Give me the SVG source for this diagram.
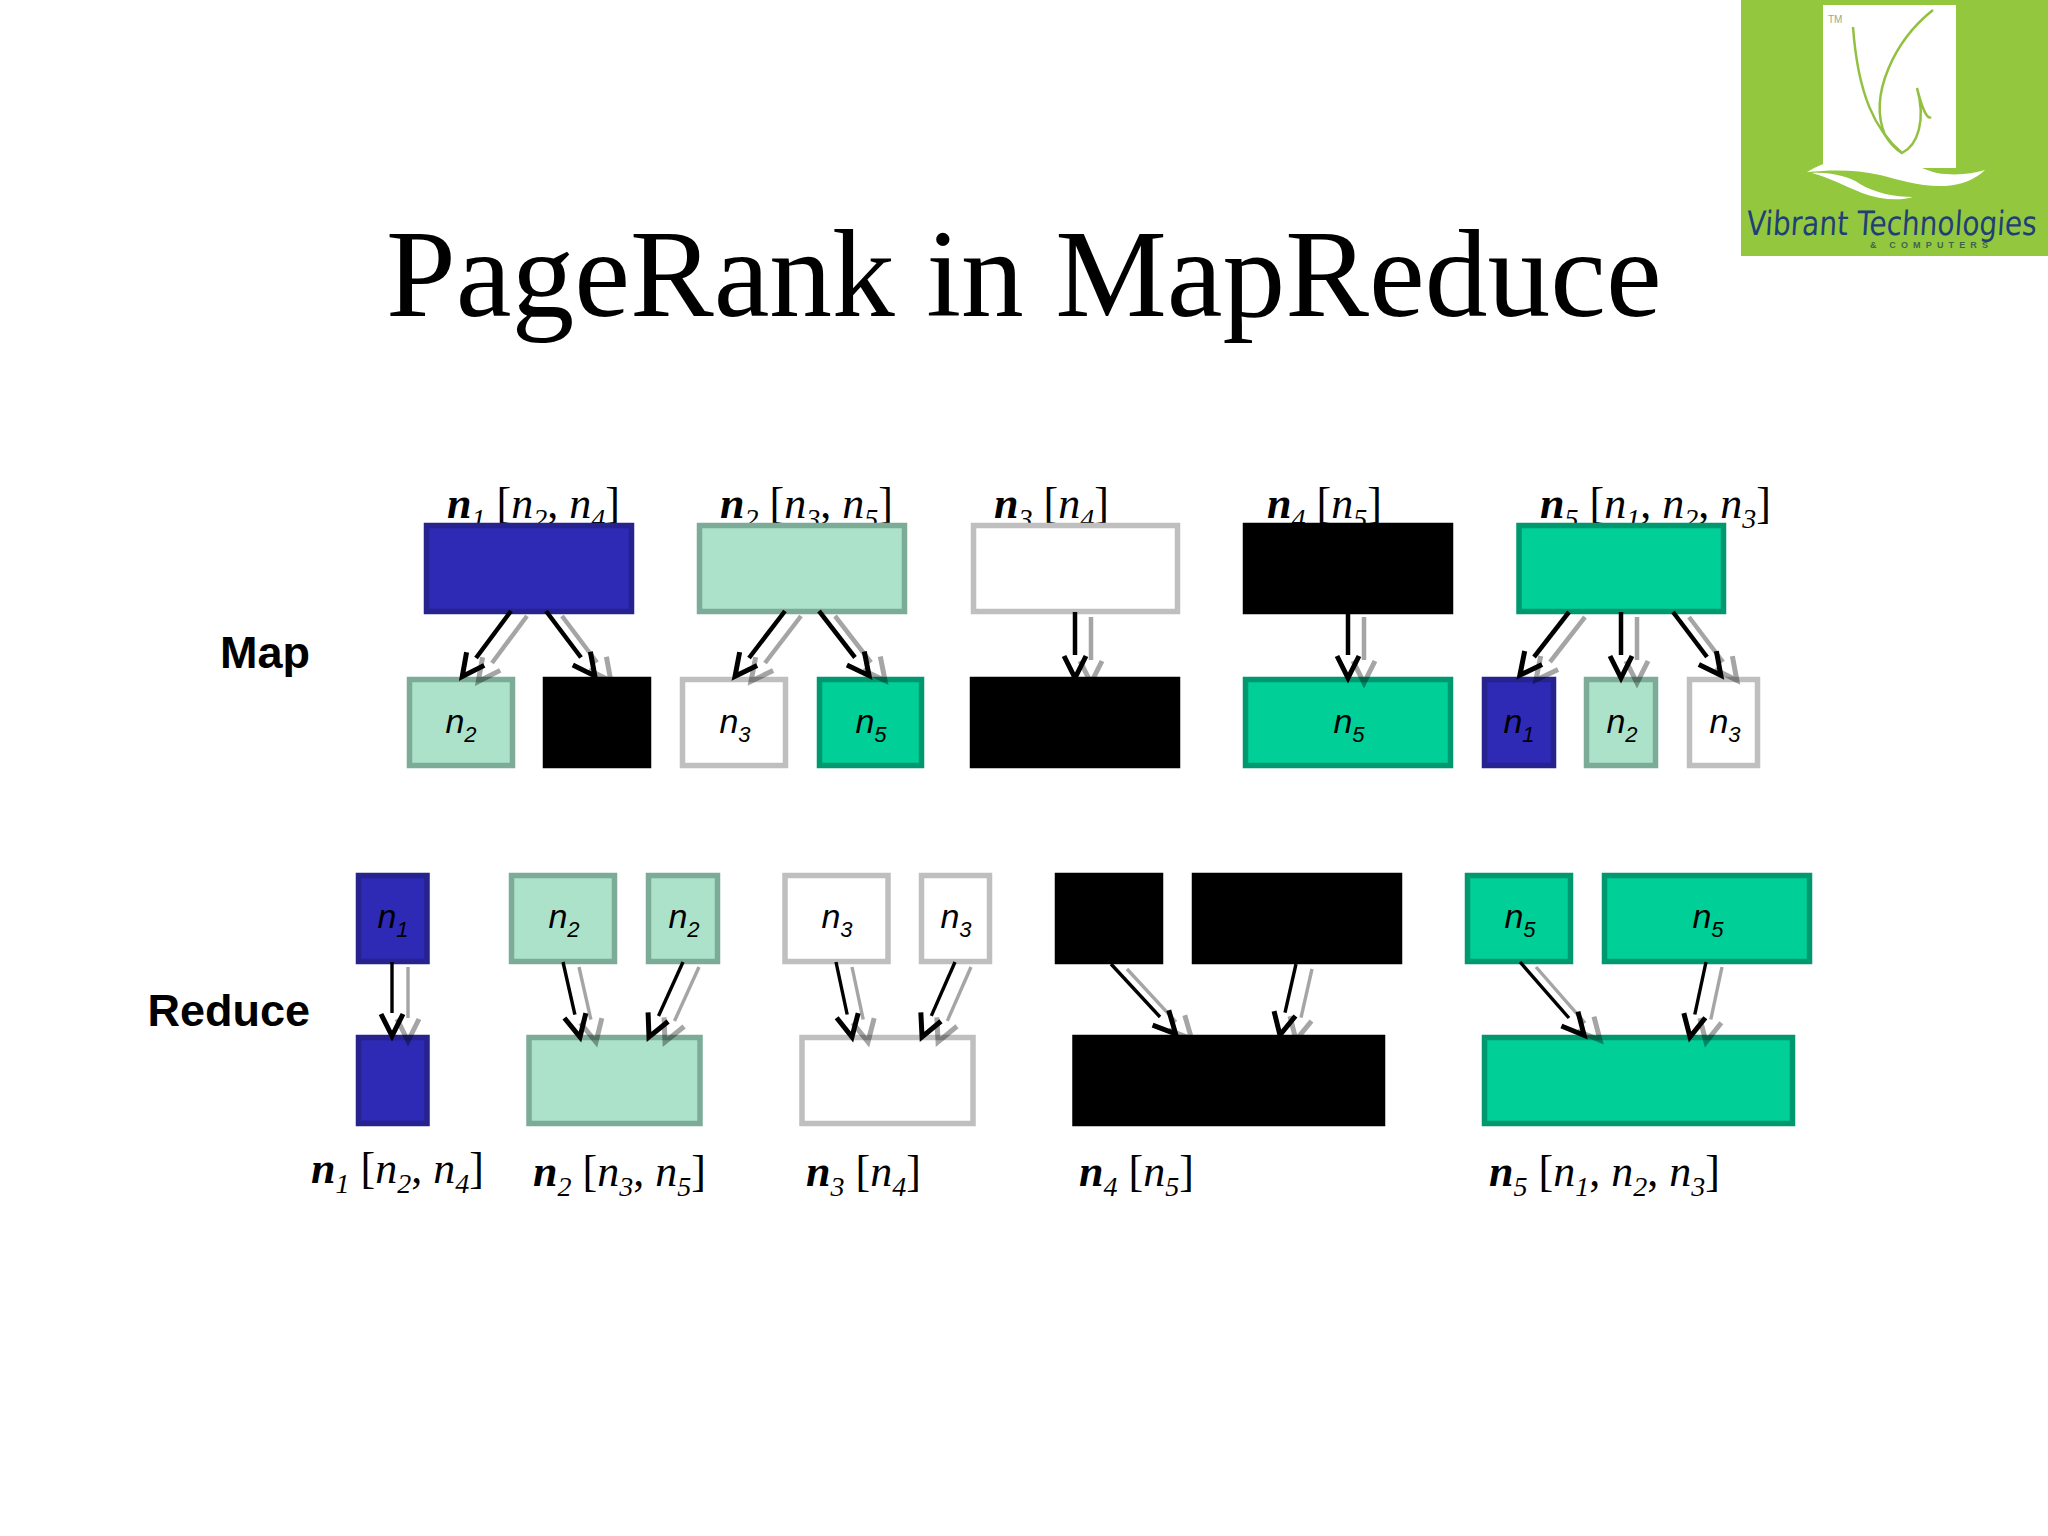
<svg xmlns="http://www.w3.org/2000/svg" xmlns:xlink="http://www.w3.org/1999/xlink" width="2048" height="1536" viewBox="0 0 2048 1536">
<style>
.title{font:125.500px "Liberation Serif",serif;fill:#000}
.stage{font:bold 45px "Liberation Sans",Arial,sans-serif;fill:#000;text-anchor:end}
.lbl{font:italic 44px "Liberation Serif",serif;fill:#000}
.lbl .b{font-weight:bold}
.lbl .s{font-size:28px}
.lbl .r{font-style:normal}
.nl{font:italic 34px "Liberation Sans",Arial,sans-serif;fill:#000;text-anchor:middle}
.nl .s{font-size:22px}
.blue{fill:#2e2ab5;stroke:#26238f;stroke-width:5.500}
.mint{fill:#ade2ca;stroke:#7cab98;stroke-width:5.500}
.white{fill:#fff;stroke:#bfbfbf;stroke-width:5.500}
.black{fill:#000;stroke:#000;stroke-width:5.500}
.teal{fill:#00cf98;stroke:#00996f;stroke-width:5.500}
.ms line{stroke:#000;stroke-width:4.500;marker-end:url(#h)}
.rs line{stroke:#000;stroke-width:3.400;marker-end:url(#h)}
</style>
<defs>
<marker id="h" markerUnits="userSpaceOnUse" markerWidth="40" markerHeight="40" viewBox="-5 -20 40 40" refX="0" refY="0" orient="auto">
<path d="M1,-11 L23,0 L1,11" fill="none" stroke="#000" stroke-width="5"/>
</marker>
</defs>
<rect width="2048" height="1536" fill="#fff"/>
<g id="logo">
<rect x="1741" y="0" width="307" height="256" fill="#93c83e"/>
<rect x="1823" y="5" width="133" height="163" fill="#fff"/>
<g fill="none" stroke="#93c040" stroke-width="2.500">
<path d="M1853,27 C1858,95 1875,130 1902,153 C1918,145 1926,120 1917,88 C1922,108 1927,120 1931,117"/>
<path d="M1933,10 C1895,40 1868,95 1885,135 C1889,142 1895,149 1902,153"/>
</g>
<path d="M1807,172 C1830,158 1860,154 1887,158 C1910,162 1925,170 1937,173 C1955,176 1972,174 1985,170 C1975,180 1960,185 1945,186 C1920,187 1900,180 1880,175 C1855,169 1830,170 1807,172Z" fill="#fff"/>
<path d="M1812,173 C1830,172 1848,176 1860,184 C1875,193 1895,197 1913,197 C1900,201 1880,200 1862,193 C1845,186 1830,178 1812,173Z" fill="#fff"/>
<text x="1828" y="23" font-family="Liberation Sans,sans-serif" font-size="10" fill="#9aa98a">TM</text>
<text transform="matrix(1 0 -0.08 1.2 1746 235)" font-family="DejaVu Sans,sans-serif" font-size="28" fill="#1f3f78">Vibrant Technologies</text>
<text x="1870" y="248" font-family="Liberation Sans,sans-serif" font-size="9" font-weight="bold" fill="#3d6450" textLength="118">&amp; COMPUTERS</text>
</g>
<text class="title" x="386" y="316">PageRank in MapReduce</text>
<text class="stage" x="310" y="668">Map</text>
<text class="stage" x="310" y="1026">Reduce</text>
<g id="labels-top" class="lbl">
<text x="447" y="518"><tspan class="b">n</tspan><tspan class="s" dy="10">1</tspan><tspan class="r" dy="-10"> [</tspan>n<tspan class="s" dy="10">2</tspan><tspan class="r" dy="-10">, </tspan>n<tspan class="s" dy="10">4</tspan><tspan class="r" dy="-10">]</tspan></text>
<text x="720" y="518"><tspan class="b">n</tspan><tspan class="s" dy="10">2</tspan><tspan class="r" dy="-10"> [</tspan>n<tspan class="s" dy="10">3</tspan><tspan class="r" dy="-10">, </tspan>n<tspan class="s" dy="10">5</tspan><tspan class="r" dy="-10">]</tspan></text>
<text x="994" y="518"><tspan class="b">n</tspan><tspan class="s" dy="10">3</tspan><tspan class="r" dy="-10"> [</tspan>n<tspan class="s" dy="10">4</tspan><tspan class="r" dy="-10">]</tspan></text>
<text x="1267" y="518"><tspan class="b">n</tspan><tspan class="s" dy="10">4</tspan><tspan class="r" dy="-10"> [</tspan>n<tspan class="s" dy="10">5</tspan><tspan class="r" dy="-10">]</tspan></text>
<text x="1540" y="518"><tspan class="b">n</tspan><tspan class="s" dy="10">5</tspan><tspan class="r" dy="-10"> [</tspan>n<tspan class="s" dy="10">1</tspan><tspan class="r" dy="-10">, </tspan>n<tspan class="s" dy="10">2</tspan><tspan class="r" dy="-10">, </tspan>n<tspan class="s" dy="10">3</tspan><tspan class="r" dy="-10">]</tspan></text>
</g>
<g id="map-sources">
<g id="m-n1"><rect class="blue" x="426.500" y="525.500" width="205" height="86"/></g>
<g id="m-n2"><rect class="mint" x="699.500" y="525.500" width="205" height="86"/></g>
<g id="m-n3"><rect class="white" x="973.500" y="525.500" width="204" height="86"/></g>
<g id="m-n4"><rect class="black" x="1245.500" y="525.500" width="205" height="86"/></g>
<g id="m-n5"><rect class="teal" x="1519" y="525.500" width="204.500" height="86"/></g>
</g>
<g id="map-targets">
<g id="mt-1"><rect class="mint" x="409.500" y="679.500" width="103" height="86"/><text class="nl" x="461" y="733">n<tspan class="s" dy="9">2</tspan></text></g>
<g id="mt-2"><rect class="black" x="545.500" y="679.500" width="103" height="86"/></g>
<g id="mt-3"><rect class="white" x="682.500" y="679.500" width="103" height="86"/><text class="nl" x="735" y="733">n<tspan class="s" dy="9">3</tspan></text></g>
<g id="mt-4"><rect class="teal" x="819.500" y="679.500" width="102" height="86"/><text class="nl" x="871" y="733">n<tspan class="s" dy="9">5</tspan></text></g>
<g id="mt-5"><rect class="black" x="972.500" y="679.500" width="205" height="86"/></g>
<g id="mt-6"><rect class="teal" x="1245.500" y="679.500" width="205" height="86"/><text class="nl" x="1349" y="733">n<tspan class="s" dy="9">5</tspan></text></g>
<g id="mt-7"><rect class="blue" x="1484.500" y="679.500" width="69" height="86"/><text class="nl" x="1519" y="733">n<tspan class="s" dy="9">1</tspan></text></g>
<g id="mt-8"><rect class="mint" x="1586.500" y="679.500" width="69" height="86"/><text class="nl" x="1622" y="733">n<tspan class="s" dy="9">2</tspan></text></g>
<g id="mt-9"><rect class="white" x="1689.500" y="679.500" width="68" height="86"/><text class="nl" x="1725" y="733">n<tspan class="s" dy="9">3</tspan></text></g>
</g>
<g id="reduce-sources">
<g id="rs-1"><rect class="blue" x="358.500" y="875.500" width="68.500" height="86"/><text class="nl" x="393" y="928">n<tspan class="s" dy="9">1</tspan></text></g>
<g id="rs-2"><rect class="mint" x="511.500" y="875.500" width="103" height="86"/><text class="nl" x="564" y="928">n<tspan class="s" dy="9">2</tspan></text></g>
<g id="rs-3"><rect class="mint" x="648.500" y="875.500" width="69" height="86"/><text class="nl" x="684" y="928">n<tspan class="s" dy="9">2</tspan></text></g>
<g id="rs-4"><rect class="white" x="785" y="875.500" width="103" height="86"/><text class="nl" x="837" y="928">n<tspan class="s" dy="9">3</tspan></text></g>
<g id="rs-5"><rect class="white" x="921.500" y="875.500" width="68" height="86"/><text class="nl" x="956" y="928">n<tspan class="s" dy="9">3</tspan></text></g>
<g id="rs-6"><rect class="black" x="1057.500" y="875.500" width="103" height="86"/></g>
<g id="rs-7"><rect class="black" x="1194.500" y="875.500" width="205" height="86"/></g>
<g id="rs-8"><rect class="teal" x="1467.500" y="875.500" width="103" height="86"/><text class="nl" x="1520" y="928">n<tspan class="s" dy="9">5</tspan></text></g>
<g id="rs-9"><rect class="teal" x="1604.500" y="875.500" width="205" height="86"/><text class="nl" x="1708" y="928">n<tspan class="s" dy="9">5</tspan></text></g>
</g>
<g id="reduce-targets">
<g id="rt-1"><rect class="blue" x="358.500" y="1037.500" width="68.500" height="86"/></g>
<g id="rt-2"><rect class="mint" x="529" y="1037.500" width="171" height="86"/></g>
<g id="rt-3"><rect class="white" x="802" y="1037.500" width="171" height="86"/></g>
<g id="rt-4"><rect class="black" x="1075" y="1037.500" width="307.500" height="86"/></g>
<g id="rt-5"><rect class="teal" x="1484.500" y="1037.500" width="308" height="86"/></g>
</g>
<g id="connectors">
<g id="black-arrows">
<g class="ms">
<line x1="511" y1="611" x2="476" y2="658"/>
<line x1="546" y1="611" x2="581" y2="657.500"/>
<line x1="785" y1="611" x2="749" y2="658"/>
<line x1="819" y1="611" x2="855" y2="657.500"/>
<line x1="1075" y1="612" x2="1075" y2="655"/>
<line x1="1348" y1="612" x2="1348" y2="655"/>
<line x1="1569" y1="612" x2="1534" y2="657"/>
<line x1="1621" y1="612" x2="1621" y2="655"/>
<line x1="1673" y1="612" x2="1707" y2="657"/>
</g>
<g class="rs">
<line x1="392" y1="962" x2="392" y2="1013"/>
<line x1="563" y1="962" x2="574.900" y2="1014.600"/>
<line x1="683" y1="962" x2="658.500" y2="1016"/>
<line x1="836" y1="962" x2="847.200" y2="1014.500"/>
<line x1="955" y1="962" x2="931.300" y2="1015.900"/>
<line x1="1111" y1="964" x2="1160" y2="1017"/>
<line x1="1296" y1="964" x2="1285" y2="1012.600"/>
<line x1="1520" y1="962" x2="1569" y2="1018"/>
<line x1="1706" y1="962" x2="1694.800" y2="1014.500"/>
</g>
</g>
<use href="#black-arrows" xlink:href="#black-arrows" transform="translate(16,5)" opacity="0.35"/>
</g>
<g id="labels-bottom" class="lbl">
<text x="311" y="1183"><tspan class="b">n</tspan><tspan class="s" dy="10">1</tspan><tspan class="r" dy="-10"> [</tspan>n<tspan class="s" dy="10">2</tspan><tspan class="r" dy="-10">, </tspan>n<tspan class="s" dy="10">4</tspan><tspan class="r" dy="-10">]</tspan></text>
<text x="533" y="1186"><tspan class="b">n</tspan><tspan class="s" dy="10">2</tspan><tspan class="r" dy="-10"> [</tspan>n<tspan class="s" dy="10">3</tspan><tspan class="r" dy="-10">, </tspan>n<tspan class="s" dy="10">5</tspan><tspan class="r" dy="-10">]</tspan></text>
<text x="806" y="1186"><tspan class="b">n</tspan><tspan class="s" dy="10">3</tspan><tspan class="r" dy="-10"> [</tspan>n<tspan class="s" dy="10">4</tspan><tspan class="r" dy="-10">]</tspan></text>
<text x="1079" y="1186"><tspan class="b">n</tspan><tspan class="s" dy="10">4</tspan><tspan class="r" dy="-10"> [</tspan>n<tspan class="s" dy="10">5</tspan><tspan class="r" dy="-10">]</tspan></text>
<text x="1489" y="1186"><tspan class="b">n</tspan><tspan class="s" dy="10">5</tspan><tspan class="r" dy="-10"> [</tspan>n<tspan class="s" dy="10">1</tspan><tspan class="r" dy="-10">, </tspan>n<tspan class="s" dy="10">2</tspan><tspan class="r" dy="-10">, </tspan>n<tspan class="s" dy="10">3</tspan><tspan class="r" dy="-10">]</tspan></text>
</g>
</svg>
